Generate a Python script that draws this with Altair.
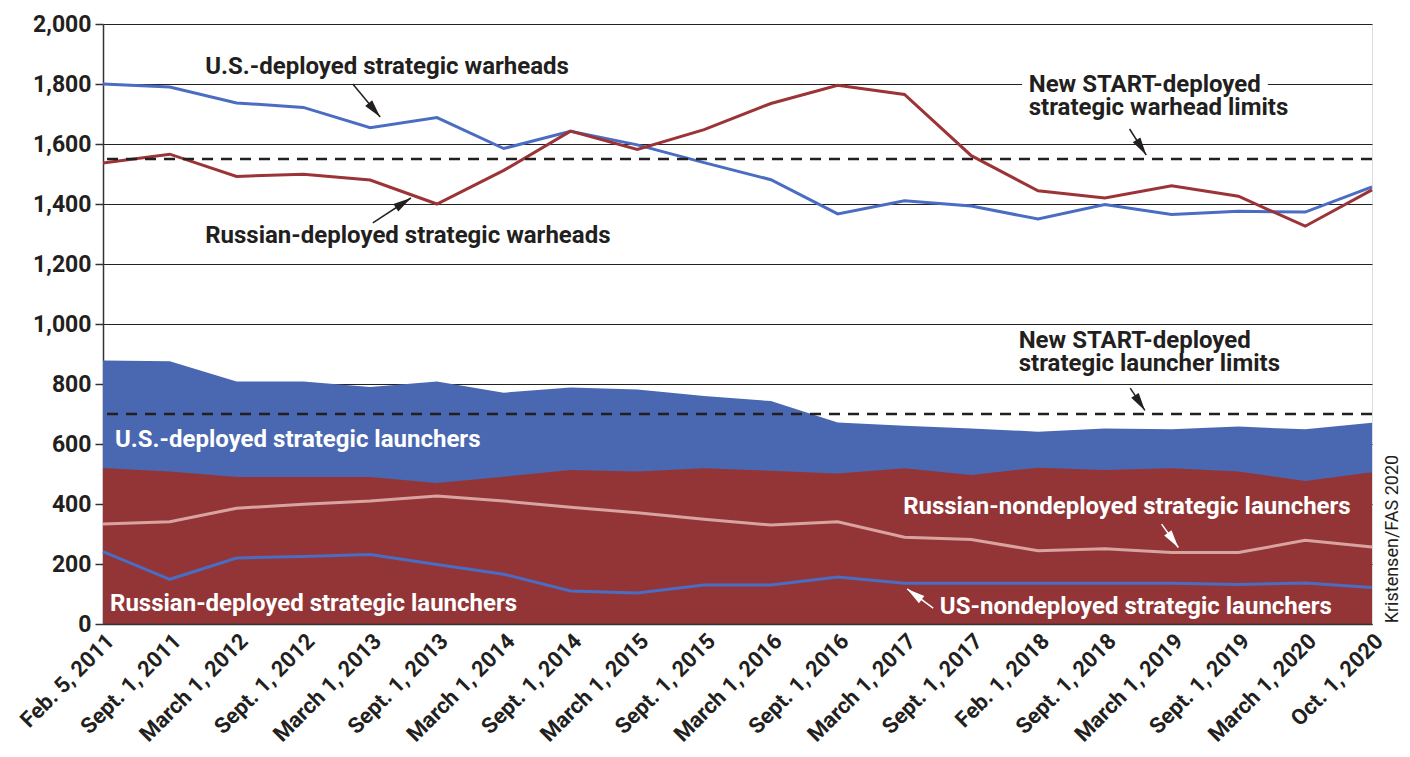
import math
import altair as alt
import pandas as pd

dates = ["Feb. 5, 2011", "Sept. 1, 2011", "March 1, 2012", "Sept. 1, 2012", "March 1, 2013",
         "Sept. 1, 2013", "March 1, 2014", "Sept. 1, 2014", "March 1, 2015", "Sept. 1, 2015",
         "March 1, 2016", "Sept. 1, 2016", "March 1, 2017", "Sept. 1, 2017", "Feb. 1, 2018",
         "Sept. 1, 2018", "March 1, 2019", "Sept. 1, 2019", "March 1, 2020", "Oct. 1, 2020"]
us_warheads = [1800, 1790, 1737, 1722, 1654, 1688, 1585, 1642, 1597, 1538,
               1481, 1367, 1411, 1393, 1350, 1398, 1365, 1376, 1373, 1457]
ru_warheads = [1537, 1566, 1492, 1499, 1480, 1400, 1512, 1643, 1582, 1648,
               1735, 1796, 1765, 1561, 1444, 1420, 1461, 1426, 1326, 1447]
us_launchers = [878, 876, 808, 808, 790, 808, 771, 788, 782, 760,
                743, 672, 661, 652, 641, 652, 649, 658, 649, 671]
ru_launchers = [520, 508, 490, 490, 490, 470, 491, 513, 508, 519,
                511, 502, 519, 497, 521, 513, 519, 508, 477, 506]
ru_nondeployed = [333, 341, 386, 399, 410, 427, 410, 389, 371, 349,
                  330, 341, 289, 282, 244, 251, 238, 238, 279, 257]
us_nondeployed = [241, 149, 220, 225, 232, 198, 166, 110, 103, 130,
                  130, 157, 136, 136, 136, 136, 136, 132, 137, 122]
warhead_limit = 1550
launcher_limit = 700

BLUE = "#4A68B1"
RED = "#933537"
PINK = "#D9A3A0"
LINE_BLUE = "#4A6CC2"
LINE_RED = "#9B3337"
INK = "#231F20"
FONT = "Roboto"

W, H = 1269, 600
PX_X = W / 19.0
PX_Y = H / 2000.0

idx = list(range(len(dates)))
df = pd.DataFrame({
    "i": idx,
    "us_w": us_warheads, "ru_w": ru_warheads,
    "us_l": us_launchers, "ru_l": ru_launchers,
    "ru_nd": ru_nondeployed, "us_nd": us_nondeployed,
})

label_expr = "[" + ",".join("'" + d + "'" for d in dates) + "][datum.value]"

xscale = alt.Scale(domain=[0, 19], nice=False, zero=False)
yscale = alt.Scale(domain=[0, 2000], nice=False)

x_axis = alt.Axis(values=idx, labelExpr=label_expr, labelAngle=-45, labelFontSize=22,
                  labelFontWeight="bold", labelFont=FONT, labelColor=INK, ticks=False,
                  labelPadding=6, domainColor="#333333", domainWidth=1.5, grid=False,
                  title=None, zindex=1, labelAlign="right", labelBaseline="top",
                  labelOverlap=False, labelBound=False)
y_axis = alt.Axis(values=list(range(0, 2001, 200)), format=",d", labelFontSize=23,
                  labelFontWeight="bold", labelFont=FONT, labelColor=INK, tickSize=8,
                  tickColor="#333333", tickWidth=1.5, labelPadding=4, domainColor="#333333",
                  domainWidth=1.5, grid=True, gridColor="#222222", gridWidth=1, title=None,
                  labelOverlap=False)


def X(field):
    return alt.X(field, scale=xscale, axis=x_axis)


def Y(field):
    return alt.Y(field, scale=yscale, axis=y_axis)


base = alt.Chart(df)

us_area = base.mark_area(color=BLUE, opacity=1).encode(x=X("i:Q"), y=Y("us_l:Q"))
ru_area = base.mark_area(color=RED, opacity=1).encode(x=X("i:Q"), y=Y("ru_l:Q"))


def line(field, color, width=3):
    return base.mark_line(color=color, strokeWidth=width).encode(x=X("i:Q"), y=Y(field + ":Q"))


lines = [line("ru_nd", PINK), line("us_nd", LINE_BLUE), line("us_w", LINE_BLUE), line("ru_w", LINE_RED)]

limits = pd.DataFrame({"v": [warhead_limit, launcher_limit]})
limit_rules = alt.Chart(limits).mark_rule(color=INK, strokeWidth=2.5, strokeDash=[11, 8]).encode(
    y=Y("v:Q"),
)

# white backing behind the warhead-limit label (hides gridline)
bg = pd.DataFrame({"x": [13.76], "x2": [17.44], "y": [1830], "y2": [1700]})
bg_rect = alt.Chart(bg).mark_rect(color="white").encode(
    x=X("x:Q"), x2="x2:Q", y=Y("y:Q"), y2="y2:Q",
)

labels = pd.DataFrame([
    {"x": 1.53, "y": 1857, "t": "U.S.-deployed strategic warheads", "c": INK},
    {"x": 1.53, "y": 1293, "t": "Russian-deployed strategic warheads", "c": INK},
    {"x": 13.86, "y": 1797, "t": "New START-deployed\nstrategic warhead limits", "c": INK},
    {"x": 13.71, "y": 943, "t": "New START-deployed\nstrategic launcher limits", "c": INK},
    {"x": 0.18, "y": 613, "t": "U.S.-deployed strategic launchers", "c": "white"},
    {"x": 0.105, "y": 67, "t": "Russian-deployed strategic launchers", "c": "white"},
    {"x": 11.98, "y": 390, "t": "Russian-nondeployed strategic launchers", "c": "white"},
    {"x": 12.53, "y": 57, "t": "US-nondeployed strategic launchers", "c": "white"},
])
label_layer = alt.Chart(labels).mark_text(
    align="left", baseline="middle", fontSize=24, fontWeight="bold", font=FONT,
    lineBreak="\n", lineHeight=23
).encode(
    x=X("x:Q"), y=Y("y:Q"), text="t:N",
    color=alt.Color("c:N", scale=None),
)

arrows = pd.DataFrame([
    {"x": 3.74, "y": 1800, "x2": 4.15, "y2": 1690, "c": INK},
    {"x": 4.04, "y": 1337, "x2": 4.61, "y2": 1420, "c": INK},
    {"x": 15.37, "y": 1650, "x2": 15.62, "y2": 1563, "c": INK},
    {"x": 15.38, "y": 786, "x2": 15.60, "y2": 712, "c": INK},
    {"x": 15.85, "y": 333, "x2": 16.10, "y2": 255, "c": "white"},
    {"x": 12.43, "y": 53, "x2": 12.04, "y2": 117, "c": "white"},
])
arrows["angle"] = [
    (math.degrees(math.atan2((r.x2 - r.x) * PX_X, (r.y2 - r.y) * PX_Y)) % 360)
    for r in arrows.itertuples()
]
arrow_lines = alt.Chart(arrows).mark_rule(strokeWidth=1.5).encode(
    x=X("x:Q"), x2="x2:Q", y=Y("y:Q"), y2="y2:Q",
    color=alt.Color("c:N", scale=None),
)
arrow_heads = alt.Chart(arrows).mark_point(
    shape="M0,0L0.5,2L-0.5,2Z", size=324, filled=True, opacity=1, strokeWidth=0
).encode(
    x=X("x2:Q"), y=Y("y2:Q"),
    angle=alt.Angle("angle:Q", scale=None),
    color=alt.Color("c:N", scale=None),
)

credit = pd.DataFrame({"x": [19.32], "y": [283], "t": ["Kristensen/FAS 2020"]})
credit_layer = alt.Chart(credit).mark_text(
    angle=270, fontSize=18, font=FONT, color=INK, baseline="middle", align="center"
).encode(
    x=X("x:Q"), y=Y("y:Q"), text="t:N",
)

chart = alt.layer(
    us_area, ru_area, *lines, bg_rect, limit_rules, label_layer, arrow_lines, arrow_heads, credit_layer
).properties(
    width=W, height=H,
    autosize=alt.AutoSizeParams(type="none"),
    padding={"left": 95, "top": 16, "right": 30, "bottom": 125},
).configure_view(stroke=None).configure(background="white")

chart.save("out.html", embed_options={"renderer": "svg", "actions": False})
